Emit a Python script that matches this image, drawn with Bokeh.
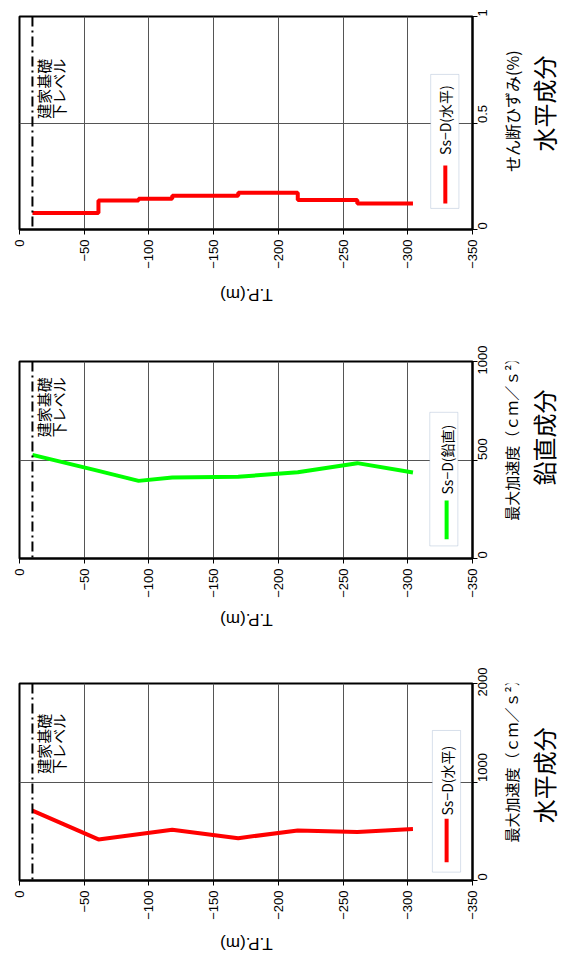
import math
from bokeh.plotting import figure
from bokeh.layouts import column, row
from bokeh.models import Range1d, Label, Span, BoxAnnotation, FixedTicker
from bokeh.embed import file_html
from bokeh.resources import INLINE

# ---------------- data ----------------
tp_ticks = [0, -50, -100, -150, -200, -250, -300, -350]
foundation_tp = -10

# shear strain (horizontal component), step profile
strain_bounds = [-10, -61, -92, -118, -169, -215, -261, -304]
strain_vals = [0.077, 0.136, 0.144, 0.158, 0.172, 0.139, 0.122]

# max acceleration, vertical component
vert_tp = [-10, -61, -92, -118, -169, -215, -261, -304]
vert_acc = [526, 445, 394, 411, 415, 438, 484, 437]

# max acceleration, horizontal component
hor_tp = [-10, -61, -118, -169, -215, -261, -304]
hor_acc = [710, 417, 515, 430, 508, 492, 522]

JP = "Noto Sans CJK JP"
LAT = "Liberation Sans"

CHART_W = 500
PAGE_W = 561


def fmt(v):
    return ("\u2212" + str(-v)) if v < 0 else str(v)


def make_fig(height, ymax, yticks, ylabels):
    p = figure(width=CHART_W, height=height, x_range=Range1d(0, -350),
               y_range=Range1d(0, ymax), y_axis_location="right",
               output_backend="svg", toolbar_location=None,
               min_border_left=19, min_border_right=CHART_W - 19 - 453,
               min_border_top=16, min_border_bottom=height - 16 - (213 if ymax == 1.0 else 197))
    p.background_fill_color = "white"
    p.border_fill_color = "white"
    p.outline_line_color = "black"
    p.outline_line_width = 2
    xa = p.xaxis[0]
    xa.ticker = FixedTicker(ticks=tp_ticks)
    xa.major_label_overrides = {t: fmt(t) for t in tp_ticks}
    ya = p.yaxis[0]
    ya.ticker = FixedTicker(ticks=yticks)
    ya.major_label_overrides = dict(zip(yticks, ylabels))
    for ax in (xa, ya):
        ax.major_label_orientation = math.pi / 2
        ax.major_label_text_font = LAT
        ax.major_label_text_font_size = "13px"
        ax.major_label_text_color = "black"
        ax.major_label_standoff = 5
        ax.major_tick_out = 5
        ax.major_tick_in = 0
        ax.minor_tick_out = 0
        ax.minor_tick_in = 0
        ax.axis_line_width = 2
        ax.axis_line_color = "black"
        ax.major_tick_line_color = "black"
    p.xgrid.ticker = FixedTicker(ticks=tp_ticks[1:-1])
    p.ygrid.ticker = FixedTicker(ticks=[yticks[1]])
    p.xgrid.grid_line_color = "#555555"
    p.ygrid.grid_line_color = "#555555"
    p.xgrid.grid_line_width = 1
    p.ygrid.grid_line_width = 1
    p.add_layout(Span(location=foundation_tp, dimension="height",
                      line_color="black", line_width=2, line_dash="10 4 2 4"))
    return p


def add_texts(p, y_found, box, key, key_text_y, key_label):
    for xx, txt in ((-10.2, "建家基礎"), (-22.3, "下レベル")):
        p.add_layout(Label(x=xx, y=y_found, text=txt, angle=math.pi / 2,
                           text_font=JP, text_font_size="15px", text_color="black",
                           text_align="left", text_baseline="top"))
    bl, br, bb, bt = box
    p.add_layout(BoxAnnotation(left=bl, right=br, bottom=bb, top=bt, level="underlay",
                               fill_color="white", fill_alpha=1.0,
                               line_color="#7f98bd", line_width=1))
    kx, ky0, ky1, kc = key
    p.segment(x0=[kx], y0=[ky0], x1=[kx], y1=[ky1], line_color=kc, line_width=4)
    p.add_layout(Label(x=kx, y=key_text_y, text=key_label, angle=math.pi / 2,
                       text_font=JP, text_font_size="14px", text_color="black",
                       text_align="left", text_baseline="middle"))


def strip(width, x0, top, bottom):
    """blank figure whose data coordinates are page pixels, for outer texts"""
    s = figure(width=width, height=bottom - top, x_range=Range1d(x0, x0 + width),
               y_range=Range1d(bottom, top), output_backend="svg", toolbar_location=None,
               min_border=0, min_border_left=0, min_border_right=0,
               min_border_top=0, min_border_bottom=0)
    s.axis.visible = False
    s.grid.visible = False
    s.outline_line_color = None
    s.background_fill_color = "white"
    s.border_fill_color = "white"
    return s


def side_texts(top, bottom, axlab, axlab_xy, axlab_size, title, title_xy):
    s = strip(PAGE_W - CHART_W, CHART_W, top, bottom)
    s.add_layout(Label(x=axlab_xy[0], y=axlab_xy[1], text=axlab, angle=math.pi / 2,
                       text_font=JP, text_font_size=axlab_size, text_color="black",
                       text_align="center", text_baseline="middle"))
    s.add_layout(Label(x=title_xy[0], y=title_xy[1], text=title, angle=math.pi / 2,
                       text_font=JP, text_font_size="24px", text_color="black",
                       text_align="center", text_baseline="middle"))
    return s


def tp_strip(top, bottom, y):
    s = strip(PAGE_W, 0, top, bottom)
    s.add_layout(Label(x=246, y=y, text="T.P.(m)", angle=math.pi,
                       text_font=LAT, text_font_size="17px", text_color="black",
                       text_align="center", text_baseline="middle"))
    return s


# ---- chart 1: shear strain (page y 0..279) ----
p1 = make_fig(279, 1.0, [0, 0.5, 1.0], ["0", "0.5", "1"])
p1.step(x=strain_bounds, y=strain_vals + [strain_vals[-1]], mode="after",
        line_color="#ff0000", line_width=4)
add_texts(p1, 0.52, (-317.7, -339.5, 0.099, 0.728), (-329, 0.122, 0.30, "#ff0000"), 0.35,
          "Ss\u2212D(水平)")
s1 = side_texts(0, 279, "せん断ひずみ(%)", (511, 124), "16px", "水平成分", (543, 114))
b1 = tp_strip(279, 345, 293.5)

# ---- chart 2: vertical acceleration (page y 345..608) ----
p2 = make_fig(263, 1000, [0, 500, 1000], ["0", "500", "1000"])
p2.line(x=vert_tp, y=vert_acc, line_color="#00ff00", line_width=4)
add_texts(p2, 615, (-317, -338.7, 64, 742), (-330, 98, 295, "#00ff00"), 325,
          "Ss\u2212D(鉛直)")
s2 = side_texts(345, 608, "最大加速度（ｃｍ／ｓ²）", (510.5, 443.5), "15px", "鉛直成分", (543, 446.5))
b2 = tp_strip(608, 667, 619)

# ---- chart 3: horizontal acceleration (page y 667..930) ----
p3 = make_fig(263, 2000, [0, 1000, 2000], ["0", "1000", "2000"])
p3.line(x=hor_tp, y=hor_acc, line_color="#ff0000", line_width=4)
add_texts(p3, 1083, (-319, -340.8, 85, 1523), (-330, 186, 626, "#ff0000"), 660,
          "Ss\u2212D(水平)")
s3 = side_texts(667, 930, "最大加速度（ｃｍ／ｓ²）", (510.5, 765), "15px", "水平成分", (543, 789.5))
b3 = tp_strip(930, 963, 943)

layout = column(row(p1, s1, spacing=0), b1,
                row(p2, s2, spacing=0), b2,
                row(p3, s3, spacing=0), b3, spacing=0)
open("out.html", "w").write(file_html(layout, INLINE))
